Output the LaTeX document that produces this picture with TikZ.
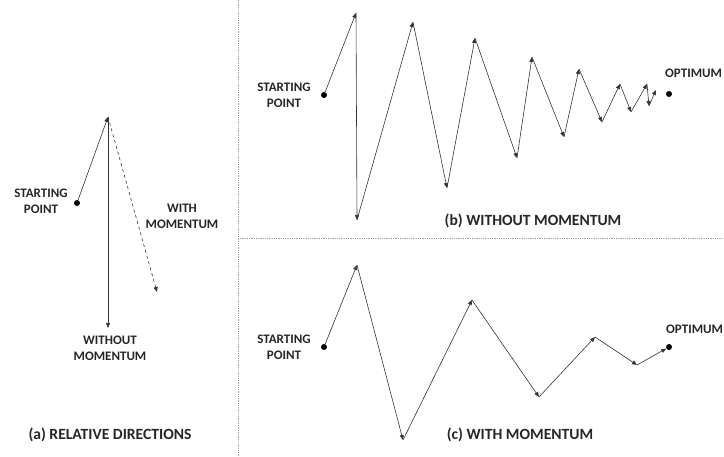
\documentclass[tikz,border=0pt]{standalone}
\usepackage{fontspec}
\setmainfont{Carlito}
\usetikzlibrary{arrows.meta,positioning}
\tikzset{
  lbl/.style={font=\bfseries\fontsize{13}{16}\selectfont,align=center,text=black!85,inner sep=1pt},
  caption/.style={lbl,font=\bfseries\fontsize{15.6}{18}\selectfont},
  stp/.style={-{Triangle[length=5pt,width=4pt]},semithick,black!80},
  dstp/.style={stp,dashed},
  dot/.style={circle,fill=black,inner sep=0pt,minimum size=6pt},
  sep/.style={densely dotted,gray!70,line width=0.8pt}
}

\begin{document}
\begin{tikzpicture}[x=1pt,y=-1pt]
    \useasboundingbox (0,0) rectangle (724,457);
    % panel separators
    \coordinate (vtop) at (238,0);
    \coordinate (vbot) at (238,457);
    \coordinate (hl) at (238,238);
    \coordinate (hr) at (724,238);
    \draw[sep] (vtop) -- (vbot);
    \draw[sep] (hl) -- (hr);

    % (a) relative directions
    \node[dot] (sa) at (77,203) {};
    \node[lbl] (sal) at (41,201) {STARTING\\POINT};
    \coordinate (ta) at (108,117);
    \coordinate (wa) at (108,328);
    \coordinate (ma) at (157,292);
    \draw[stp] (sa) -- (ta);
    \draw[stp] (ta) -- (wa);
    \draw[dstp] (ta) -- (ma);
    \node[lbl] (mal) at (182,216) {WITH\\MOMENTUM};
    \node[lbl] (wal) at (110,348) {WITHOUT\\MOMENTUM};
    \node[caption] (capa) at (110,435) {(a) RELATIVE DIRECTIONS};

    % (b) without momentum
    \node[dot] (sb) at (324,95) {};
    \node[lbl] (sbl) at (284,95) {STARTING\\POINT};
    \node[dot] (ob) at (669,94) {};
    \node[lbl,anchor=west] (obl) at (664,73) {OPTIMUM};
    \coordinate (b0) at (sb);
    \foreach \n/\p in {1/{356,13},2/{357,220},3/{413,22},4/{447,188},5/{475,38},
                       6/{517,158},7/{532,57},8/{564,137},9/{579,69},10/{602,122},
                       11/{620,84},12/{631,112},13/{647,84},14/{649,106},15/{656,90}}
      \coordinate (b\n) at (\p);
    \draw[stp] (sb) -- (b1);
    \foreach \i [evaluate=\i as \j using int(\i-1)] in {2,...,15}
      \draw[stp] (b\j) -- (b\i);
    \node[caption] (capb) at (533,221) {(b) WITHOUT MOMENTUM};

    % (c) with momentum
    \node[dot] (sc) at (324,347) {};
    \node[lbl] (scl) at (284,347) {STARTING\\POINT};
    \node[dot] (oc) at (669,347) {};
    \node[lbl,anchor=west] (ocl) at (665,329) {OPTIMUM};
    \foreach \n/\p in {1/{357,265},2/{403,440},3/{472,300},4/{539,397},
                       5/{595,337},6/{637,365}}
      \coordinate (c\n) at (\p);
    \draw[stp] (sc) -- (c1);
    \foreach \i [evaluate=\i as \j using int(\i-1)] in {2,...,6}
      \draw[stp] (c\j) -- (c\i);
    \draw[stp] (c6) -- (oc);
    \node[caption] (capc) at (520,435) {(c) WITH MOMENTUM};
  \end{tikzpicture}
\end{document}
